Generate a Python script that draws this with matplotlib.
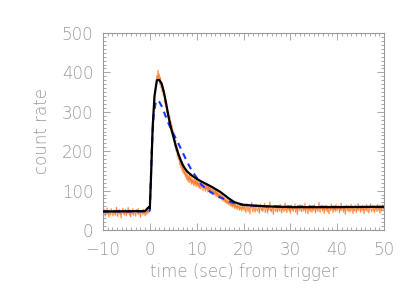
import numpy as np
import matplotlib
matplotlib.use("Agg")
import matplotlib.pyplot as plt
from matplotlib.ticker import MultipleLocator

# ---- data ----
obs_t0 = -10.0
obs_dt = 0.125
obs_counts = [
    # -10 .. -0.125
    44, 39, 52, 47, 35, 49, 42, 56, 40, 46, 33, 50, 45, 38, 54, 43, 47, 36, 51, 42,
    48, 37, 45, 58, 41, 34, 49, 44, 52, 39, 46, 31, 50, 43, 55, 40, 47, 38, 53, 45,
    36, 49, 42, 57, 44, 38, 51, 33, 46, 48, 40, 54, 37, 45, 50, 42, 35, 52, 47, 41,
    55, 39, 46, 43, 32, 50, 44, 48, 38, 53, 41, 47, 36, 51, 45, 40, 56, 43, 49, 52,
    # 0 .. 19.875
    60, 100, 150, 200, 240, 275, 300, 325, 340, 355, 372, 365, 392, 378, 405, 384, 396, 370, 388, 362,
    376, 350, 366, 342, 354, 322, 340, 312, 328, 298, 314, 288, 300, 272, 290, 262, 276, 250, 265, 240,
    252, 226, 240, 212, 228, 200, 216, 186, 204, 178, 192, 166, 182, 158, 172, 150, 165, 144, 158, 140,
    150, 134, 146, 128, 142, 124, 138, 120, 140, 122, 134, 116, 132, 118, 128, 112, 130, 115, 126, 110,
    128, 112, 124, 108, 122, 106, 120, 104, 118, 108, 116, 100, 120, 104, 114, 98, 116, 102, 112, 96,
    114, 98, 110, 94, 108, 96, 104, 90, 106, 92, 100, 88, 104, 86, 98, 84, 96, 82, 94, 80,
    92, 80, 90, 76, 88, 74, 84, 72, 82, 70, 78, 68, 80, 66, 74, 64, 76, 62, 70, 60,
    72, 58, 68, 60, 66, 54, 70, 56, 62, 52, 66, 55, 60, 50, 64, 53, 58, 48, 62, 54,
    # 20 .. 50
    58, 49, 63, 54, 44, 60, 67, 52, 47, 59, 55, 41, 62, 56, 70, 50, 46, 57, 61, 53,
    45, 58, 64, 51, 48, 55, 60, 42, 57, 66, 53, 49, 61, 47, 54, 58, 68, 44, 52, 59,
    56, 43, 61, 50, 57, 71, 49, 53, 46, 60, 55, 40, 58, 63, 51, 47, 56, 62, 45, 54,
    60, 52, 48, 65, 55, 43, 58, 51, 61, 46, 57, 69, 50, 54, 44, 59, 53, 62, 48, 56,
    42, 57, 63, 50, 55, 47, 60, 53, 66, 45, 51, 58, 39, 56, 61, 49, 54, 64, 52, 46,
    58, 62, 48, 55, 51, 67, 44, 57, 53, 60, 41, 56, 50, 63, 47, 59, 54, 45, 61, 52,
    49, 64, 55, 43, 58, 52, 60, 47, 56, 70, 51, 45, 59, 54, 62, 48, 53, 57, 42, 60,
    55, 50, 63, 46, 58, 53, 41, 61, 57, 49, 66, 52, 55, 44, 60, 51, 58, 47, 64, 53,
    48, 59, 54, 62, 43, 56, 51, 68, 49, 55, 60, 45, 57, 52, 40, 58, 63, 50, 54, 47,
    61, 53, 46, 57, 65, 50, 55, 42, 59, 52, 48, 62, 56, 44, 58, 51, 67, 49, 54, 60,
    45, 56, 52, 63, 48, 57, 41, 59, 54, 50, 64, 47, 55, 60, 43, 53, 58, 66, 51, 46,
    57, 62, 49, 54, 45, 60, 52, 58, 47, 65, 53, 50, 56, 43, 61, 55, 48, 59, 64, 52,
    56,
]

model_t = [-10, -1.0, -0.5, -0.2, 0.0, 0.3, 0.6, 1.0, 1.5, 2.0, 2.5, 3.0, 3.5, 4.0, 4.5,
           5.0, 5.5, 6.0, 6.5, 7.0, 7.5, 8.0, 9.0, 10.0, 11.0, 12.0, 13.0, 14.0, 15.0,
           16.0, 17.0, 18.0, 19.0, 20.0, 22.0, 25.0, 30.0, 40.0, 50.0]
model_rate = [47, 48, 55, 58, 55, 150, 260, 340, 380, 381, 372, 350, 320, 287, 260,
              238, 215, 196, 180, 166, 156, 148, 138, 130, 123, 117, 111, 104, 97,
              88, 79, 71, 67, 64, 62, 60, 58, 58, 59]

fit_t = [-10, -0.2, 0.0, 0.4, 0.8, 1.2, 1.8, 2.5, 3.0, 4.0, 5.0, 6.0, 7.0, 8.0, 9.0,
         10.0, 11.0, 12.0, 13.0, 14.0, 15.0, 16.0, 17.0, 18.0, 19.0, 20.0, 25.0, 50.0]
fit_rate = [47, 47, 50, 200, 290, 320, 330, 315, 300, 270, 245, 222, 197, 172, 150,
            133, 115, 105, 96, 89, 83, 78, 72, 68, 65, 63, 60, 58]

x_ticks = [-10, 0, 10, 20, 30, 40, 50]
y_ticks = [0, 100, 200, 300, 400, 500]

# ---- figure ----
gray = "#9a9a9a"
fig = plt.figure(figsize=(4.15, 2.97), dpi=100)
ax = fig.add_axes([103 / 415, 1 - 230 / 297, 281 / 415, 197 / 297])

obs_t = obs_t0 + obs_dt * np.arange(len(obs_counts))
ax.plot(obs_t, obs_counts, color="#ffc49c", lw=1.1, alpha=0.7, zorder=1)
ax.plot(obs_t, obs_counts, color="#ff7420", lw=0.4, zorder=2)
ax.plot(fit_t, fit_rate, color="#1a35ff", lw=1.5, ls=(0, (3, 2.5)), zorder=3)
ax.plot(model_t, model_rate, color="black", lw=1.6, zorder=4)

ax.set_xlim(-10, 50)
ax.set_ylim(0, 500)
ax.set_xticks(x_ticks)
ax.set_yticks(y_ticks)
ax.set_xticklabels(["\u221210" if v < 0 else str(v) for v in x_ticks])
ax.xaxis.set_minor_locator(MultipleLocator(1))
ax.yaxis.set_minor_locator(MultipleLocator(10))
ax.tick_params(which="both", direction="in", top=True, right=True, colors=gray,
               labelcolor=gray, labelsize=12, width=0.6)
ax.tick_params(which="major", length=5)
ax.tick_params(which="minor", length=2.5)
ax.tick_params(axis="x", which="major", pad=8)
ax.tick_params(axis="y", which="major", pad=7)
for lab in ax.get_xticklabels() + ax.get_yticklabels():
    lab.set_fontweight("light")
for s in ax.spines.values():
    s.set_color(gray)
    s.set_linewidth(0.8)

ax.set_xlabel("time (sec) from trigger", color=gray, fontsize=12, labelpad=3,
              fontweight="light")
ax.set_ylabel("count rate", color=gray, fontsize=12, labelpad=8, fontweight="light")

fig.savefig("out.png", dpi=100)
